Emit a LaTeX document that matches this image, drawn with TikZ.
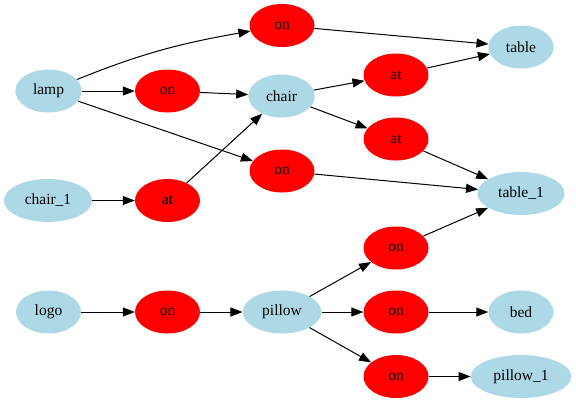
\documentclass[tikz,border=0pt]{standalone}
\usepackage{fontspec}
\setmainfont{Liberation Serif}
\usetikzlibrary{arrows.meta,shapes.geometric}

\definecolor{objblue}{RGB}{173,216,230}

\begin{document}
\begin{tikzpicture}[
    x=1bp, y=-1bp,
    obj/.style={ellipse, fill=objblue, minimum width=65bp, minimum height=43bp, inner xsep=8bp, inner ysep=2bp, font=\fontsize{15.5bp}{18bp}\selectfont},
    rel/.style={obj, fill=red},
    arrow/.style={-{Triangle[length=12bp, width=9bp]}, line width=1bp}
]
\useasboundingbox (0,0) rectangle (576,403);

% Objects (left column)
\node[obj] (lamp) at (48.5, 91) {lamp};
\node[obj] (chair1) at (48, 200.5) {chair\_1};
\node[obj] (logo) at (48.5, 312) {logo};

% Relations (second column)
\node[rel] (onchair) at (167.5, 91) {on};
\node[rel] (atchair) at (167.5, 200.5) {at};
\node[rel] (onpillow) at (167.5, 312) {on};

% Middle column
\node[rel] (ontable) at (282, 25.5) {on};
\node[obj] (chair) at (281.5, 96) {chair};
\node[rel] (ontableA) at (282, 171) {on};
\node[obj] (pillow) at (282, 312) {pillow};

% Relations (fourth column)
\node[rel] (attable) at (396, 75) {at};
\node[rel] (attableA) at (396, 139) {at};
\node[rel] (ontableB) at (396, 248) {on};
\node[rel] (onbed) at (396, 312) {on};
\node[rel] (onpillowA) at (396, 376.5) {on};

% Objects (right column)
\node[obj] (table) at (521, 47) {table};
\node[obj] (table1) at (521, 193.5) {table\_1};
\node[obj] (bed) at (521, 312) {bed};
\node[obj] (pillow1) at (521, 376.5) {pillow\_1};

\draw[arrow] (lamp) to[out=22, in=190] (ontable);
\draw[arrow] (ontable) -- (table);
\draw[arrow] (lamp) -- (onchair);
\draw[arrow] (onchair) -- (chair);
\draw[arrow] (lamp) -- (ontableA);
\draw[arrow] (ontableA) -- (table1);
\draw[arrow] (chair1) -- (atchair);
\draw[arrow] (atchair) -- (chair);
\draw[arrow] (chair) -- (attable);
\draw[arrow] (attable) -- (table);
\draw[arrow] (chair) -- (attableA);
\draw[arrow] (attableA) -- (table1);
\draw[arrow] (logo) -- (onpillow);
\draw[arrow] (onpillow) -- (pillow);
\draw[arrow] (pillow) -- (ontableB);
\draw[arrow] (ontableB) -- (table1);
\draw[arrow] (pillow) -- (onbed);
\draw[arrow] (onbed) -- (bed);
\draw[arrow] (pillow) -- (onpillowA);
\draw[arrow] (onpillowA) -- (pillow1);
\end{tikzpicture}
\end{document}
